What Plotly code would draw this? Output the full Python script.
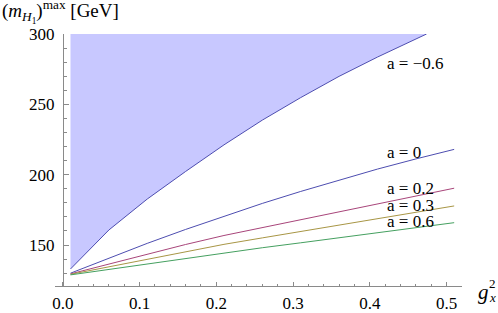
import plotly.graph_objects as go

# ---- data ----
g2 = [0.01, 0.06, 0.11, 0.16, 0.21, 0.26, 0.31, 0.36, 0.41, 0.46, 0.51]
m_a0 = [130.0, 140.8, 151.2, 161.1, 170.5, 179.6, 188.1, 196.3, 204.0, 211.2, 218.0]
m_a02 = [129.5, 136.5, 143.5, 150.4, 156.8, 162.4, 168.0, 173.6, 179.2, 184.8, 190.4]
m_a03 = [129.2, 134.5, 139.7, 145.1, 150.5, 155.1, 159.6, 164.2, 168.7, 173.3, 177.8]
m_a06 = [128.8, 132.7, 136.6, 140.4, 144.2, 148.1, 151.6, 155.2, 158.7, 162.3, 165.9]

g2_neg = [0.01, 0.06, 0.11, 0.16, 0.21, 0.26, 0.31, 0.36, 0.41, 0.46, 0.474]
m_neg06 = [133.0, 160.7, 182.7, 202.3, 221.2, 238.8, 254.8, 269.9, 283.6, 296.5, 300.0]
m_cap = [300.0] * len(g2_neg)

labels = ["a = \u22120.6", "a = 0", "a = 0.2", "a = 0.3", "a = 0.6"]
x_ticks = [0.0, 0.1, 0.2, 0.3, 0.4, 0.5]
x_ticktext = ["0.0", "0.1", "0.2", "0.3", "0.4", "0.5"]
y_ticks = [150, 200, 250, 300]

# ---- style ----
W, H = 498, 313
ML, MR, MT, MB = 55, 36, 34, 27
PW, PH = W - ML - MR, H - MT - MB
SERIF = "Liberation Serif"
AX = "#8a8a8a"
C_BLUE = "#4d4db0"
C_MAG = "#a8457a"
C_OLV = "#a89645"
C_GRN = "#45a060"
X_RANGE = [-0.0102, 0.5202]
Y_RANGE = [120.9, 300]


def px(xp):
    return (xp - ML) / PW


def py(yp):
    return (H - MB - yp) / PH


fig = go.Figure()
fig.add_trace(go.Scatter(x=g2_neg, y=m_cap, mode="lines", line=dict(width=0),
                         showlegend=False, hoverinfo="skip"))
fig.add_trace(go.Scatter(x=g2_neg, y=m_neg06, mode="lines", fill="tonexty",
                         fillcolor="#c8c8ff", line=dict(color=C_BLUE, width=1),
                         showlegend=False))
for ys, col in [(m_a0, C_BLUE), (m_a02, C_MAG), (m_a03, C_OLV), (m_a06, C_GRN)]:
    fig.add_trace(go.Scatter(x=g2, y=ys, mode="lines",
                             line=dict(color=col, width=1), showlegend=False))

label_pos = [(385, 63), (385, 152), (385, 188.5), (385, 205), (385, 221)]
annotations = []
for txt, (xp, yp) in zip(labels, label_pos):
    annotations.append(dict(x=px(xp), y=py(yp), xref="paper", yref="paper",
                            text=txt, showarrow=False, xanchor="left", yanchor="middle",
                            font=dict(family=SERIF, size=17, color="black")))
annotations.append(dict(x=px(0), y=py(11.5), xref="paper", yref="paper",
                        text="(<i>m</i><sub><i>H</i><sub>1</sub></sub>)<sup>max</sup> [GeV]",
                        showarrow=False, xanchor="left", yanchor="middle",
                        font=dict(family=SERIF, size=19, color="black")))
annotations.append(dict(x=px(476), y=py(292), xref="paper", yref="paper",
                        text="<i>g</i>", showarrow=False, xanchor="left", yanchor="middle",
                        font=dict(family=SERIF, size=21, color="black")))
annotations.append(dict(x=px(487), y=py(283), xref="paper", yref="paper",
                        text="2", showarrow=False, xanchor="left", yanchor="middle",
                        font=dict(family=SERIF, size=13, color="black")))
annotations.append(dict(x=px(487), y=py(297), xref="paper", yref="paper",
                        text="<i>x</i>", showarrow=False, xanchor="left", yanchor="middle",
                        font=dict(family=SERIF, size=13, color="black")))

fig.update_layout(
    width=W, height=H,
    margin=dict(l=ML, r=MR, t=MT, b=MB, pad=0, autoexpand=False),
    paper_bgcolor="white", plot_bgcolor="white",
    showlegend=False,
    annotations=annotations,
    xaxis=dict(range=X_RANGE, showgrid=False, zeroline=False,
               showline=True, linecolor=AX, linewidth=1,
               tickmode="array", tickvals=x_ticks, ticktext=x_ticktext,
               ticks="inside", ticklen=4, tickcolor=AX, tickwidth=1,
               ticklabelstandoff=2,
               minor=dict(dtick=0.02, tick0=0, ticks="inside", ticklen=2,
                          tickcolor=AX, tickwidth=1, showgrid=False),
               tickfont=dict(family=SERIF, size=17, color="black")),
    yaxis=dict(range=Y_RANGE, showgrid=False, zeroline=False,
               anchor="free", position=(0 - X_RANGE[0]) / (X_RANGE[1] - X_RANGE[0]),
               showline=True, linecolor=AX, linewidth=1,
               tickmode="array", tickvals=y_ticks,
               ticks="inside", ticklen=5, tickcolor=AX, tickwidth=1,
               ticklabelstandoff=5,
               minor=dict(dtick=10, tick0=0, ticks="inside", ticklen=3,
                          tickcolor=AX, tickwidth=1, showgrid=False),
               tickfont=dict(family=SERIF, size=17, color="black")),
)

fig.write_html("out.html", config={"displayModeBar": False},
               post_script="document.body.style.margin='0px';")
